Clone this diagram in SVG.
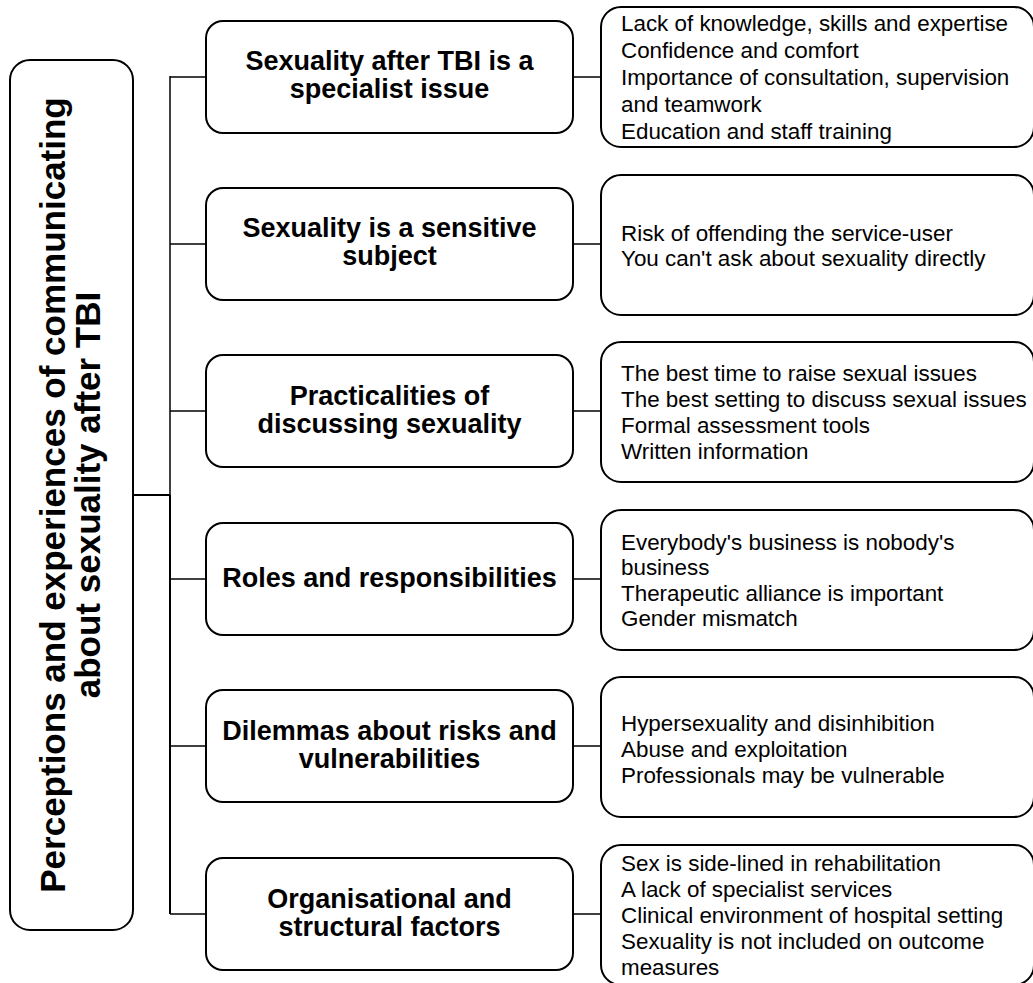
<svg xmlns="http://www.w3.org/2000/svg" width="1033" height="983" viewBox="0 0 1033 983">
<style>
.box{fill:#fff;stroke:#000;stroke-width:2}
.c{fill:none;stroke:#000;stroke-width:1.5}
.b{font-family:"Liberation Sans",Arial,sans-serif;font-weight:bold;font-size:27px;fill:#000;text-anchor:middle}
.t{font-family:"Liberation Sans",Arial,sans-serif;font-size:22.4px;fill:#000}
.v{font-family:"Liberation Sans",Arial,sans-serif;font-weight:bold;font-size:35px;fill:#000;text-anchor:middle}
</style>
<rect width="1033" height="983" fill="#fff"/>
<g id="connectors">
<line class="c" x1="133" y1="495" x2="170" y2="495" style="stroke-width:2"/>
<line class="c" x1="170" y1="76" x2="170" y2="495"/>
<line class="c" x1="170" y1="495" x2="170" y2="914" style="stroke-width:2"/>
<line class="c" x1="170" y1="77" x2="206" y2="77"/>
<line class="c" x1="170" y1="244" x2="206" y2="244"/>
<line class="c" x1="170" y1="411" x2="206" y2="411"/>
<line class="c" x1="170" y1="579" x2="206" y2="579"/>
<line class="c" x1="170" y1="746" x2="206" y2="746"/>
<line class="c" x1="170" y1="914" x2="206" y2="914"/>
<line class="c" x1="573" y1="77" x2="601" y2="77"/>
<line class="c" x1="573" y1="244" x2="601" y2="244"/>
<line class="c" x1="573" y1="411" x2="601" y2="411"/>
<line class="c" x1="573" y1="579" x2="601" y2="579"/>
<line class="c" x1="573" y1="746" x2="601" y2="746"/>
<line class="c" x1="573" y1="914" x2="601" y2="914"/>
</g>
<g id="root">
<rect class="box" x="10" y="60" width="123" height="870" rx="20"/>
<text class="v" transform="translate(65,495) rotate(-90)">Perceptions and experiences of communicating</text>
<text class="v" transform="translate(100,495) rotate(-90)">about sexuality after TBI</text>
</g>
<g id="theme1">
<rect class="box" x="206" y="21" width="367" height="112" rx="17"/>
<text class="b" x="389.5" y="70">Sexuality after TBI is a</text>
<text class="b" x="389.5" y="98">specialist issue</text>
</g>
<g id="theme2">
<rect class="box" x="206" y="188" width="367" height="112" rx="17"/>
<text class="b" x="389.5" y="237">Sexuality is a sensitive</text>
<text class="b" x="389.5" y="265">subject</text>
</g>
<g id="theme3">
<rect class="box" x="206" y="355" width="367" height="112" rx="17"/>
<text class="b" x="389.5" y="405">Practicalities of</text>
<text class="b" x="389.5" y="433">discussing sexuality</text>
</g>
<g id="theme4">
<rect class="box" x="206" y="523" width="367" height="112" rx="17"/>
<text class="b" x="389.5" y="587">Roles and responsibilities</text>
</g>
<g id="theme5">
<rect class="box" x="206" y="690" width="367" height="112" rx="17"/>
<text class="b" x="389.5" y="740">Dilemmas about risks and</text>
<text class="b" x="389.5" y="768">vulnerabilities</text>
</g>
<g id="theme6">
<rect class="box" x="206" y="858" width="367" height="112" rx="17"/>
<text class="b" x="389.5" y="908">Organisational and</text>
<text class="b" x="389.5" y="936">structural factors</text>
</g>
<g id="sub1">
<rect class="box" x="601" y="7" width="433" height="140" rx="20"/>
<text class="t" x="621" y="31">Lack of knowledge, skills and expertise</text>
<text class="t" x="621" y="58">Confidence and comfort</text>
<text class="t" x="621" y="85">Importance of consultation, supervision</text>
<text class="t" x="621" y="112">and teamwork</text>
<text class="t" x="621" y="139">Education and staff training</text>
</g>
<g id="sub2">
<rect class="box" x="601" y="175" width="433" height="140" rx="20"/>
<text class="t" x="621" y="241">Risk of offending the service-user</text>
<text class="t" x="621" y="266">You can't ask about sexuality directly</text>
</g>
<g id="sub3">
<rect class="box" x="601" y="342" width="433" height="140" rx="20"/>
<text class="t" x="621" y="381">The best time to raise sexual issues</text>
<text class="t" x="621" y="407">The best setting to discuss sexual issues</text>
<text class="t" x="621" y="433">Formal assessment tools</text>
<text class="t" x="621" y="459">Written information</text>
</g>
<g id="sub4">
<rect class="box" x="601" y="510" width="433" height="140" rx="20"/>
<text class="t" x="621" y="550">Everybody's business is nobody's</text>
<text class="t" x="621" y="575">business</text>
<text class="t" x="621" y="601">Therapeutic alliance is important</text>
<text class="t" x="621" y="626">Gender mismatch</text>
</g>
<g id="sub5">
<rect class="box" x="601" y="677" width="433" height="140" rx="20"/>
<text class="t" x="621" y="731">Hypersexuality and disinhibition</text>
<text class="t" x="621" y="757">Abuse and exploitation</text>
<text class="t" x="621" y="783">Professionals may be vulnerable</text>
</g>
<g id="sub6">
<rect class="box" x="601" y="845" width="433" height="140" rx="20"/>
<text class="t" x="621" y="871">Sex is side-lined in rehabilitation</text>
<text class="t" x="621" y="897">A lack of specialist services</text>
<text class="t" x="621" y="923">Clinical environment of hospital setting</text>
<text class="t" x="621" y="949">Sexuality is not included on outcome</text>
<text class="t" x="621" y="975">measures</text>
</g>
</svg>
